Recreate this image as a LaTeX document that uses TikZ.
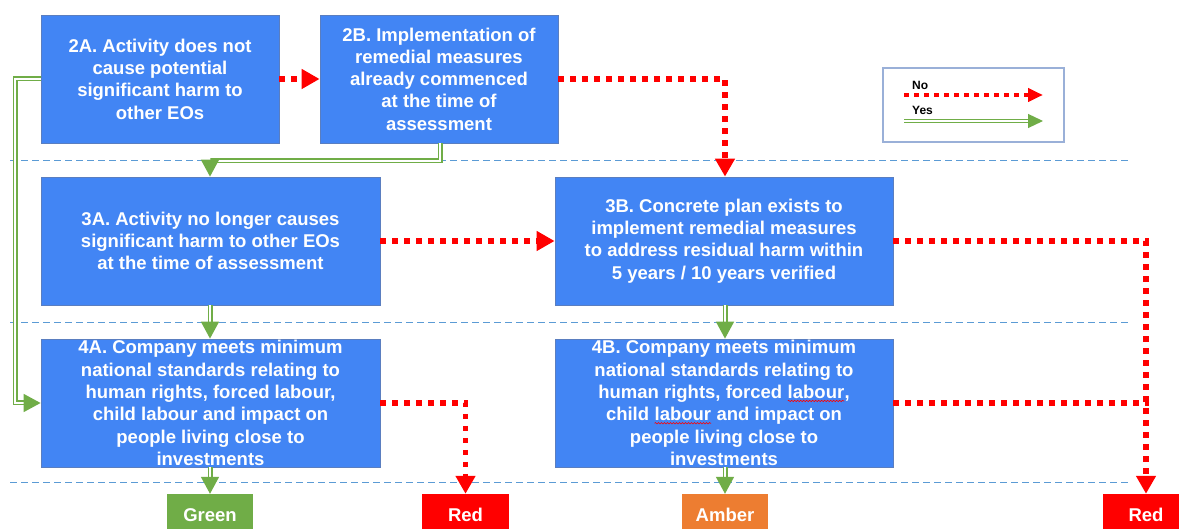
\documentclass[tikz,border=0pt]{standalone}
\usepackage{fontspec}
\setmainfont{Liberation Sans}
\usetikzlibrary{arrows.meta,decorations.pathmorphing}
\definecolor{boxfill}{HTML}{4285F4}
\definecolor{boxline}{HTML}{5A7EC0}
\definecolor{yesgreen}{HTML}{70AD47}
\definecolor{nored}{HTML}{FF0000}
\definecolor{amber}{HTML}{ED7D31}
\definecolor{sepblue}{HTML}{5B9BD5}
\definecolor{legline}{HTML}{9AB0D8}
\newcommand\squig[1]{\tikz[baseline=(sqw.base),x=1cm,y=1cm]{\node[shape=rectangle,draw=none,fill=none,inner sep=0pt,outer sep=0pt,minimum width=0pt,minimum height=0pt,align=left,font=] (sqw) {#1};\draw[draw=nored,line width=0.6pt,decorate,decoration={snake,amplitude=0.7pt,segment length=3pt}] ([yshift=-2.5pt]sqw.base west) -- ([yshift=-2.5pt]sqw.base east);}}
\begin{document}
\begin{tikzpicture}[x=1pt,y=-1pt,
  flowbox/.style={draw=boxline,line width=0.8pt,fill=boxfill,text=white,
    font=\fontsize{18.5}{22.3}\selectfont\bfseries,align=center,inner sep=0pt,minimum height=128pt},
  outbox/.style={text=white,font=\fontsize{18.5}{22}\selectfont\bfseries,inner sep=0pt,
    minimum width=86pt,minimum height=42pt},
  noarrow/.style={draw=nored,line width=5.5pt,dash pattern=on 5.5pt off 6.5pt,
    -{Triangle[length=18pt,width=19pt]}},
  yesarrow/.style={draw=yesgreen,line width=1.5pt,double=white,double distance=2pt,
    -{Triangle[length=17pt,width=18pt]}},
  sepline/.style={draw=sepblue,line width=0.9pt,dash pattern=on 7pt off 4pt},
  legtext/.style={font=\fontsize{12}{14}\selectfont\bfseries,text=black,inner sep=0pt,anchor=west}]
\useasboundingbox (0,0) rectangle (1179,529);
\fill[white] (0,0) rectangle (1179,529);

% separators
\coordinate (s1a) at (10,160); \coordinate (s1b) at (1131,160);
\coordinate (s2a) at (10,322); \coordinate (s2b) at (1131,322);
\coordinate (s3a) at (10,482); \coordinate (s3b) at (1131,482);
\draw[sepline] (s1a) -- (s1b);
\draw[sepline] (s2a) -- (s2b);
\draw[sepline] (s3a) -- (s3b);

% boxes
\node[flowbox,minimum width=238pt] (b2a) at (160,79)
  {2A. Activity does not\\cause potential\\significant harm to\\other EOs};
\node[flowbox,minimum width=238pt] (b2b) at (439,79)
  {2B. Implementation of\\remedial measures\\already commenced\\at the time of\\assessment};
\node[flowbox,minimum width=339pt] (b3a) at (210.5,241)
  {3A. Activity no longer causes\\significant harm to other EOs\\at the time of assessment};
\node[flowbox,minimum width=338pt] (b3b) at (724,241)
  {3B. Concrete plan exists to\\implement remedial measures\\to address residual harm within\\5 years / 10 years verified};
\node[flowbox,minimum width=339pt] (b4a) at (210.5,403)
  {4A. Company meets minimum\\national standards relating to\\human rights, forced labour,\\child labour and impact on\\people living close to\\investments};
\node[flowbox,minimum width=338pt] (b4b) at (724,403)
  {4B. Company meets minimum\\national standards relating to\\human rights, forced \squig{labour},\\child \squig{labour} and impact on\\people living close to\\investments};

% outcomes
\node[outbox,fill=yesgreen] (green) at (210,515) {Green};
\node[outbox,fill=nored,minimum width=87pt] (red1) at (465.5,515) {Red};
\node[outbox,fill=amber] (amber) at (725,515) {Amber};
\node[outbox,fill=nored] (red2) at (1146,515) {Red};

% No arrows
\draw[noarrow] (b2a.east |- 0,79) -- (b2b.west |- 0,79);
\draw[noarrow] (b2b.east |- 0,79) -- (725,79) -- (b3b.north -| 725,0);
\draw[noarrow] (b3a.east) -- (b3b.west);
\draw[noarrow] (b3b.east) -- (1146,241) -- (red2.north);
\draw[noarrow,-] (b4b.east) -- (1148.75,403);
\draw[noarrow] (b4a.east) -- (465.5,403) -- (red1.north);

% Yes arrows
\draw[yesarrow] (b2a.west |- 0,79) -- (15,79) -- (15,403) -- (b4a.west);
\draw[yesarrow] (b2b.south -| 440,0) -- (440,161) -- (210,161) -- (b3a.north -| 210,0);
\draw[yesarrow] (b3a.south -| 210,0) -- (b4a.north -| 210,0);
\draw[yesarrow] (b4a.south -| 210,0) -- (green.north);
\draw[yesarrow] (b3b.south -| 725,0) -- (b4b.north -| 725,0);
\draw[yesarrow] (b4b.south -| 725,0) -- (amber.north);

% legend
\node[draw=legline,line width=1.3pt,minimum width=181pt,minimum height=74pt,inner sep=0pt] (legend) at (973.5,105) {};
\node[legtext] (legno) at (912,85) {No};
\node[legtext] (legyes) at (912,110) {Yes};
\coordinate (lna) at (904,95); \coordinate (lnb) at (1043,95);
\coordinate (lya) at (904,121); \coordinate (lyb) at (1043,121);
\draw[draw=nored,line width=4.5pt,dash pattern=on 4.5pt off 5.5pt,-{Triangle[length=15pt,width=13pt]}] (lna) -- (lnb);
\draw[draw=yesgreen,line width=1.2pt,double=white,double distance=1.8pt,-{Triangle[length=15pt,width=14pt]}] (lya) -- (lyb);
\end{tikzpicture}
\end{document}
